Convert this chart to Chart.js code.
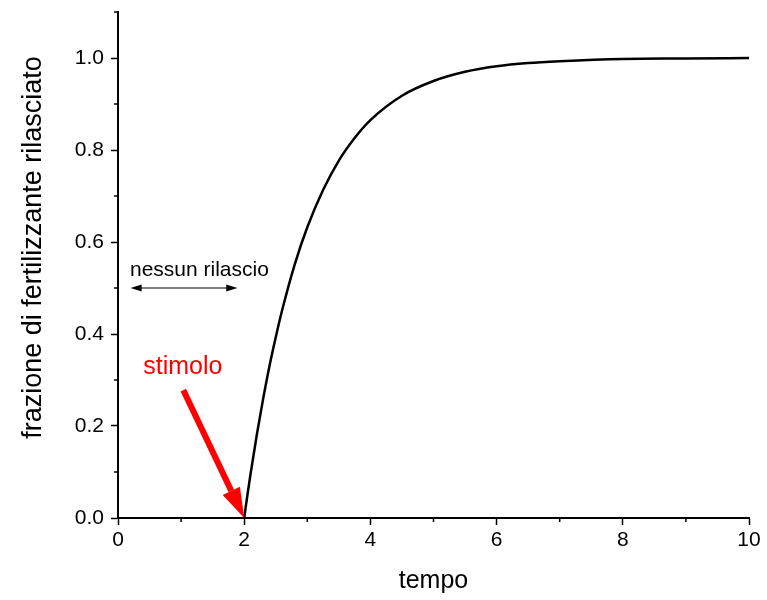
<!DOCTYPE html>
<html>
<head>
<meta charset="utf-8">
<script src="https://cdn.jsdelivr.net/npm/chart.js@4.4.1/dist/chart.umd.min.js"></script>
<style>
  html, body { margin: 0; padding: 0; background: #fff; }
  #wrap { width: 767px; height: 600px; }
</style>
</head>
<body>
<div id="wrap"><canvas id="c" width="767" height="600"></canvas></div>
<script>
// ---- data ----
const timeValues = [2, 2.05, 2.1, 2.2, 2.3, 2.4, 2.5, 2.6, 2.8, 3.0, 3.25, 3.5, 3.75, 4.0, 4.5, 5.0, 5.5, 6.0, 6.5, 7.0, 8.0, 9.0, 10.0];
const fractionValues = [0, 0.049, 0.095, 0.181, 0.259, 0.33, 0.393, 0.451, 0.551, 0.632, 0.713, 0.777, 0.826, 0.865, 0.918, 0.95, 0.97, 0.982, 0.989, 0.993, 0.998, 0.999, 1.0];

const xMajorTicks = [0, 2, 4, 6, 8, 10];
const xMinorTicks = [1, 3, 5, 7, 9];
const yMajorTicks = [0, 0.2, 0.4, 0.6, 0.8, 1.0];
const yMinorTicks = [0.1, 0.3, 0.5, 0.7, 0.9, 1.1];

const xTitle = 'tempo';
const yTitle = 'frazione di fertilizzante rilasciato';
const yTitleCenterValue = 0.588; // vertical centre of the y title, in data units

// annotations (data coordinates)
const noReleaseLabel = 'nessun rilascio';
const noReleaseLabelPos = [0.19, 0.527];
const noReleaseArrowX = [0.2, 1.89];
const noReleaseArrowY = 0.5;

const stimulusLabel = 'stimolo';
const stimulusLabelPos = [0.40, 0.312];
const stimulusArrowFrom = [1.035, 0.278];
const stimulusArrowTo = [2, 0];

const FONT = '"Liberation Sans", Arial, Helvetica, sans-serif';

function arrowHead(ctx, tipX, tipY, fromX, fromY, len, half) {
  const ang = Math.atan2(tipY - fromY, tipX - fromX);
  const bx = tipX - len * Math.cos(ang), by = tipY - len * Math.sin(ang);
  ctx.beginPath();
  ctx.moveTo(tipX, tipY);
  ctx.lineTo(bx + half * Math.sin(ang), by - half * Math.cos(ang));
  ctx.lineTo(bx - half * Math.sin(ang), by + half * Math.cos(ang));
  ctx.closePath();
  ctx.fill();
  return [bx, by];
}

const extrasPlugin = {
  id: 'extras',
  afterDraw(chart) {
    const ctx = chart.ctx;
    const xs = chart.scales.x, ys = chart.scales.y;
    const area = chart.chartArea;
    ctx.save();
    // minor ticks
    ctx.strokeStyle = '#000';
    ctx.lineWidth = 1.5;
    ctx.beginPath();
    xMinorTicks.forEach(v => {
      const px = xs.getPixelForValue(v);
      ctx.moveTo(px, area.bottom);
      ctx.lineTo(px, area.bottom + 4);
    });
    yMinorTicks.forEach(v => {
      const py = ys.getPixelForValue(v);
      ctx.moveTo(area.left, py);
      ctx.lineTo(area.left - 4, py);
    });
    ctx.stroke();

    // y axis title
    ctx.save();
    ctx.fillStyle = '#000';
    ctx.font = '27px ' + FONT;
    ctx.textAlign = 'center';
    ctx.textBaseline = 'middle';
    ctx.translate(34, ys.getPixelForValue(yTitleCenterValue));
    ctx.rotate(-Math.PI / 2);
    ctx.fillText(yTitle, 0, 0);
    ctx.restore();

    // "nessun rilascio"
    ctx.fillStyle = '#000';
    ctx.font = '21px ' + FONT;
    ctx.textAlign = 'left';
    ctx.textBaseline = 'alphabetic';
    ctx.fillText(noReleaseLabel, xs.getPixelForValue(noReleaseLabelPos[0]), ys.getPixelForValue(noReleaseLabelPos[1]));

    // double arrow
    const ax1 = xs.getPixelForValue(noReleaseArrowX[0]);
    const ax2 = xs.getPixelForValue(noReleaseArrowX[1]);
    const ay = ys.getPixelForValue(noReleaseArrowY);
    ctx.strokeStyle = '#000';
    ctx.lineWidth = 1.2;
    ctx.beginPath();
    ctx.moveTo(ax1 + 6, ay);
    ctx.lineTo(ax2 - 6, ay);
    ctx.stroke();
    arrowHead(ctx, ax1, ay, ax2, ay, 11, 3.5);
    arrowHead(ctx, ax2, ay, ax1, ay, 11, 3.5);

    // "stimolo"
    ctx.fillStyle = '#ff0000';
    ctx.font = '25px ' + FONT;
    ctx.fillText(stimulusLabel, xs.getPixelForValue(stimulusLabelPos[0]), ys.getPixelForValue(stimulusLabelPos[1]));

    // red arrow
    const sx = xs.getPixelForValue(stimulusArrowFrom[0]);
    const sy = ys.getPixelForValue(stimulusArrowFrom[1]);
    const tx = xs.getPixelForValue(stimulusArrowTo[0]);
    const ty = ys.getPixelForValue(stimulusArrowTo[1]);
    const base = arrowHead(ctx, tx, ty, sx, sy, 30, 9.5);
    ctx.strokeStyle = '#ff0000';
    ctx.lineWidth = 6;
    ctx.beginPath();
    ctx.moveTo(sx, sy);
    ctx.lineTo(base[0], base[1]);
    ctx.stroke();
    ctx.restore();
  }
};

new Chart(document.getElementById('c'), {
  type: 'line',
  data: {
    datasets: [{
      data: timeValues.map((t, i) => ({ x: t, y: fractionValues[i] })),
      borderColor: '#000',
      borderWidth: 2.5,
      pointRadius: 0,
      fill: false,
      cubicInterpolationMode: 'monotone',
      clip: false
    }]
  },
  options: {
    responsive: false,
    animation: false,
    devicePixelRatio: 1,
    layout: { padding: { top: 12, right: 18, left: 0, bottom: 0 } },
    plugins: { legend: { display: false }, tooltip: { enabled: false } },
    scales: {
      x: {
        type: 'linear',
        min: 0, max: 10,
        afterFit(scale) { scale.height = 82; scale.paddingLeft = 0; scale.paddingRight = 0; },
        afterBuildTicks(scale) { scale.ticks = xMajorTicks.map(v => ({ value: v })); },
        border: { color: '#000', width: 2 },
        grid: { drawOnChartArea: false, drawTicks: true, tickLength: 7, tickColor: '#000', tickWidth: 1.5 },
        ticks: { color: '#000', font: { family: FONT, size: 21 }, padding: 3, maxRotation: 0, callback: v => String(v) },
        title: { display: true, text: xTitle, color: '#000', font: { family: FONT, size: 25 }, padding: { top: 6 } }
      },
      y: {
        type: 'linear',
        min: 0, max: 1.1,
        afterFit(scale) { scale.width = 118; scale.paddingTop = 0; scale.paddingBottom = 0; },
        afterBuildTicks(scale) { scale.ticks = yMajorTicks.map(v => ({ value: v })); },
        border: { color: '#000', width: 2 },
        grid: { drawOnChartArea: false, drawTicks: true, tickLength: 7, tickColor: '#000', tickWidth: 1.5 },
        ticks: { color: '#000', font: { family: FONT, size: 21 }, padding: 7, callback: v => Number(v).toFixed(1) },
        title: { display: false }
      }
    }
  },
  plugins: [extrasPlugin]
});
</script>
</body>
</html>
